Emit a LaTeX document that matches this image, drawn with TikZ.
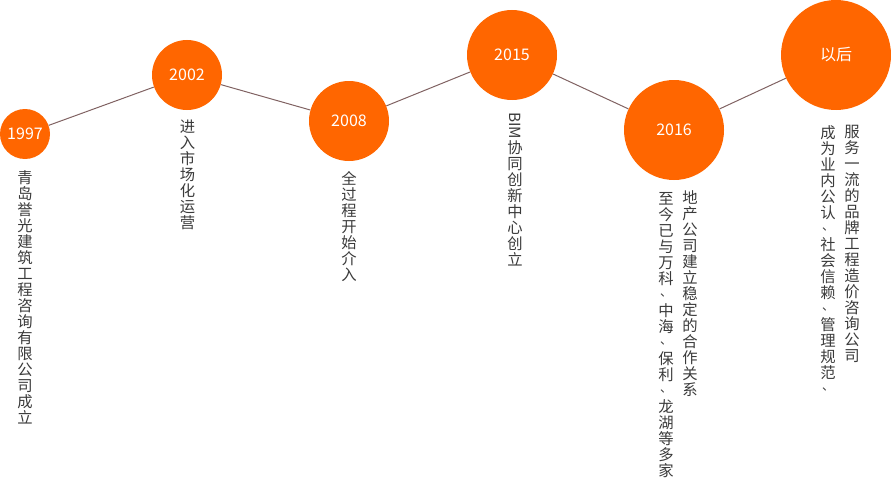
\documentclass[tikz,border=0pt]{standalone}
\usepackage{fontspec}
\usepackage{graphicx}
\setmainfont{Noto Sans CJK SC}
\definecolor{orng}{HTML}{FF6600}
\definecolor{lnc}{HTML}{806262}
\definecolor{txt}{HTML}{3A3A3A}
\newcommand{\dunhao}{\raisebox{2.5pt}{\fontsize{9pt}{9pt}\selectfont 、}}
\begin{document}
\begin{tikzpicture}[x=0.75pt,y=-0.75pt,
  yr/.style={circle,fill=orng,text=white,inner sep=0pt,font=\fontsize{12pt}{14pt}\selectfont},
  vt/.style={anchor=north,align=center,inner sep=0pt,text=txt,font=\fontsize{11.5pt}{12pt}\selectfont},
  link/.style={draw=lnc,line width=0.75pt}]
\useasboundingbox (0,0) rectangle (891,478);
% circles
\node[yr,minimum size=37.5pt] (a) at (25,134) {1997};
\node[yr,minimum size=52.5pt] (b) at (187,75) {2002};
\node[yr,minimum size=60pt] (c) at (349,121) {2008};
\node[yr,minimum size=67.5pt] (d) at (512,55) {2015};
\node[yr,minimum size=75pt] (e) at (674,130) {2016};
\node[yr,minimum size=82.5pt] (f) at (836,55) {以后};
% connectors
\draw[link] (a) -- (b);
\draw[link] (b) -- (c);
\draw[link] (c) -- (d);
\draw[link] (d) -- (e);
\draw[link] (e) -- (f);
% vertical texts
\node[vt] (ta) at (25,170) {青\\岛\\誉\\光\\建\\筑\\工\\程\\咨\\询\\有\\限\\公\\司\\成\\立};
\node[vt] (tb) at (187.5,120) {进\\入\\市\\场\\化\\运\\营};
\node[vt] (tc) at (349,171) {全\\过\\程\\开\\始\\介\\入};
\node[vt] (td) at (515,112) {\rotatebox{-90}{BIM}\\协\\同\\创\\新\\中\\心\\创\\立};
\node[vt] (te1) at (690,190) {地\\产\\公\\司\\建\\立\\稳\\定\\的\\合\\作\\关\\系};
\node[vt] (te2) at (666,192) {至\\今\\已\\与\\万\\科\\\dunhao\\中\\海\\\dunhao\\保\\利\\\dunhao\\龙\\湖\\等\\多\\家};
\node[vt] (tf1) at (852,125) {服\\务\\一\\流\\的\\品\\牌\\工\\程\\造\\价\\咨\\询\\公\\司};
\node[vt] (tf2) at (828,125) {成\\为\\业\\内\\公\\认\\\dunhao\\社\\会\\信\\赖\\\dunhao\\管\\理\\规\\范\\\dunhao};
\end{tikzpicture}
\end{document}
